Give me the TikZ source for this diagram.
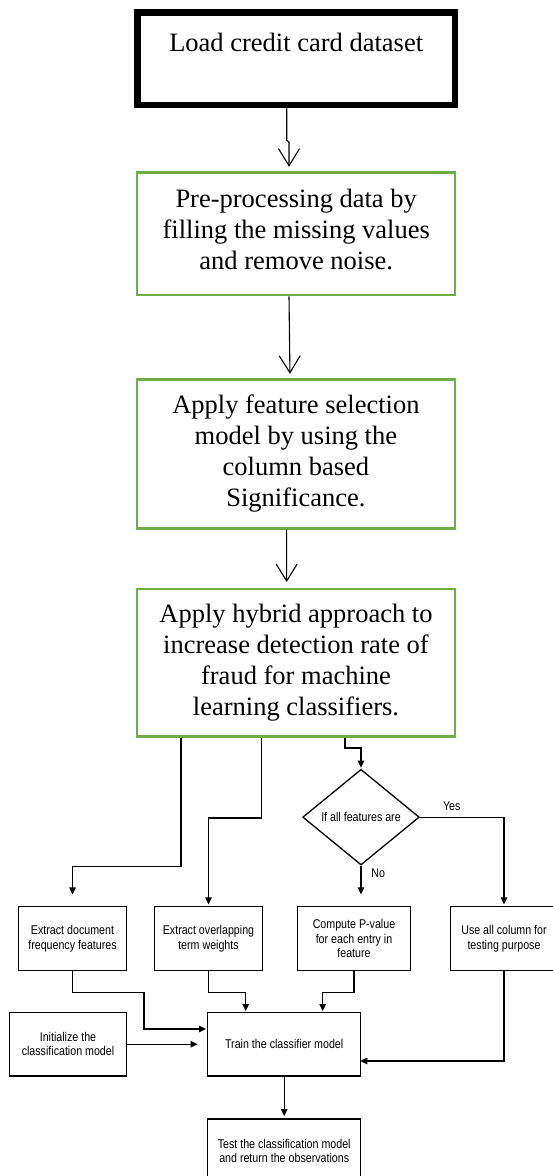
\documentclass[tikz,border=0pt]{standalone}
\usepackage{fontspec}
\setmainfont{Liberation Serif}
\newfontfamily\lsans[FakeStretch=0.84]{Liberation Sans}
\usetikzlibrary{arrows.meta,shapes.geometric}
\definecolor{boxgreen}{HTML}{70AD47}
\tikzset{
  bigtext/.style={font=\fontsize{26.5}{31}\selectfont},
  greenbox/.style={draw=boxgreen, line width=2.5pt, inner sep=0pt, bigtext, align=center, minimum width=318pt},
  smalltext/.style={font=\lsans\fontsize{12.7}{14.3}\selectfont, align=center, inner sep=0pt},
  smallbox/.style={draw=black, line width=1.3pt, smalltext},
  openarr/.style={-{Straight Barb[length=17pt,width=21pt]}, line width=1.1pt},
  flowarr/.style={-{Triangle[length=7pt,width=6.5pt]}, line width=1.3pt},
}
\begin{document}
\begin{tikzpicture}[x=1pt,y=-1pt]
\useasboundingbox (0,0) rectangle (553,1176);
\fill[white] (0,0) rectangle (553,1176);
\clip (0,0) rectangle (553,1176);

% top flow
\node[draw=black, line width=6.5pt, inner sep=0pt, bigtext, minimum width=317.6pt, minimum height=92.3pt, text depth=34pt] (load) at (296.2,58.85) {Load credit card dataset};
\node[greenbox, minimum height=122.3pt] (pre) at (296.2,233.85) {Pre-processing data by\\filling the missing values\\and remove noise.\strut};
\node[greenbox, minimum height=149pt] (fsel) at (295.9,453.8) {Apply feature selection\\model by using the\\column based\\Significance.};
\node[greenbox, minimum height=147.7pt] (hyb) at (296,662.85) {Apply hybrid approach to\\increase detection rate of\\fraud for machine\\learning classifiers.};

\draw[openarr, shorten >=4.7pt] ([xshift=-9.5pt]load.south) -- ++(0,32) -- ++(2.3,2) -- ([xshift=-7.2pt]pre.north);
\draw[openarr, shorten >=4.3pt] ([xshift=-7.2pt]pre.south) -- ([xshift=-5.9pt]fsel.north);
\draw[openarr, shorten >=5.7pt] ([xshift=-9.3pt]fsel.south) -- ([xshift=-9.3pt]hyb.north);

% lower flow
\node[smallbox, minimum width=108.4pt, minimum height=64pt] (ed) at (72.5,938.7) {Extract document\\frequency features};
\node[smallbox, minimum width=108.4pt, minimum height=64pt] (eo) at (208.5,938.7) {Extract overlapping\\term weights};
\node[smallbox, minimum width=113.4pt, minimum height=64pt] (cp) at (354,938.7) {Compute P-value\\for each entry in\\feature};
\node[smallbox, minimum width=106.6pt, minimum height=64pt] (ua) at (504,938.7) {Use all column for\\testing purpose};
\node[smallbox, minimum width=117.4pt, minimum height=63.7pt] (init) at (68,1044.15) {Initialize the\\classification model};
\node[smallbox, minimum width=153pt, minimum height=63.7pt] (train) at (284.2,1044.15) {Train the classifier model};
\node[smallbox, minimum width=153pt, minimum height=63.7pt] (test) at (284.2,1150.85) {Test the classification model\\and return the observations};
\node[smallbox, diamond, minimum width=116.6pt, minimum height=95.7pt] (dia) at (361,817.15) {If all features are};
\node[smalltext] (yes) at (451.7,806) {Yes};
\node[smalltext] (no) at (378.3,873.3) {No};

\coordinate (j1) at (144,1029);

\draw[flowarr, shorten >=11.7pt] ([xshift=-115pt]hyb.south) -- ++(0,128.3) -| (ed.north);
\draw[flowarr, shorten >=1.7pt] ([xshift=-34.3pt]hyb.south) -- ++(0,80) -| (eo.north);
\draw[flowarr, shorten >=1pt] ([xshift=49pt]hyb.south) -- ++(0,10) -| (dia.north);
\draw[flowarr, shorten >=1.7pt] (dia.east) -| (ua.north);
\draw[flowarr, shorten >=11.7pt] (dia.south) -- (dia.south |- cp.north);
\draw[flowarr, shorten >=1pt] (ed.south) -- ++(0,21) -| (j1) -- (j1 -| train.west);
\draw[flowarr, shorten >=9.4pt] (init.east) -- (init.east -| train.west);
\draw[flowarr, shorten >=0.6pt] (eo.south) -- ++(0,21) -| ([xshift=-38.5pt]train.north);
\draw[flowarr, shorten >=0.6pt] (cp.south) -- ++(0,21) -| ([xshift=38.5pt]train.north);
\draw[flowarr, shorten >=-1pt] (ua.south) |- ([yshift=-16.85pt]train.east);
\draw[flowarr, shorten >=2.3pt] (train.south) -- (test.north);
\end{tikzpicture}
\end{document}
